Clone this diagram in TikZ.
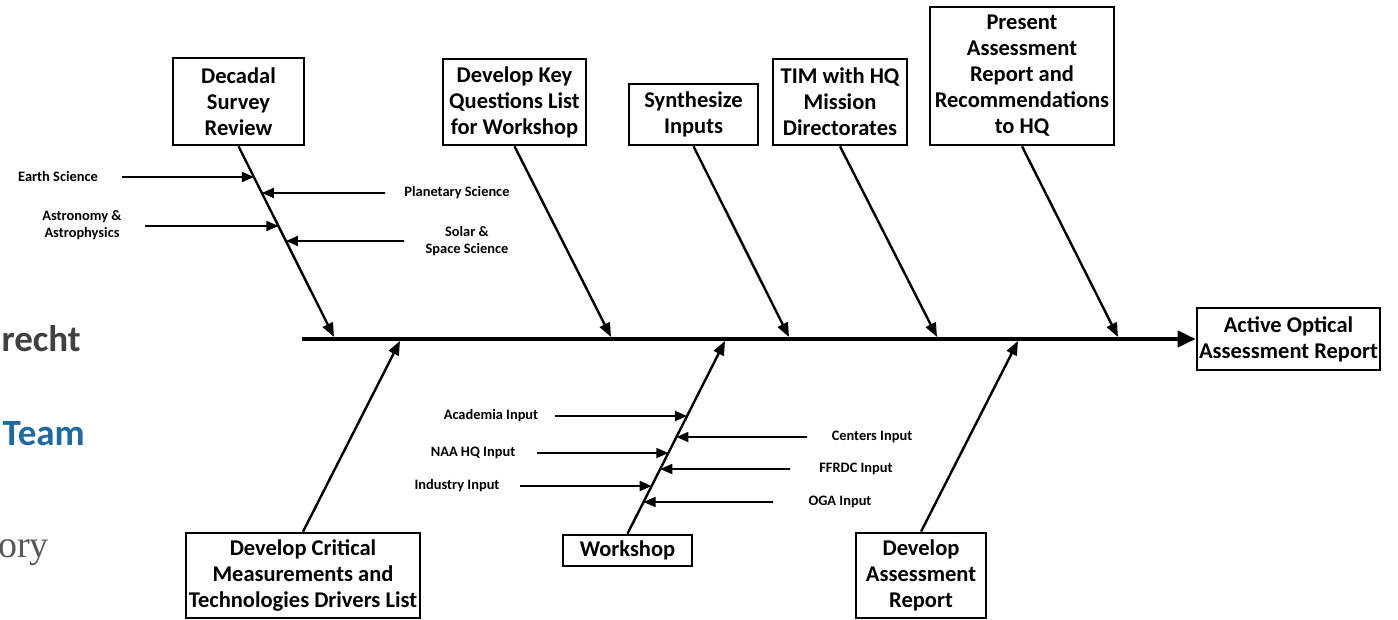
\documentclass[tikz,border=0pt]{standalone}
\usepackage{fontspec}
\setmainfont{Carlito}
\newfontfamily\seriffont{Liberation Serif}
\usetikzlibrary{arrows.meta}
\definecolor{dgray}{RGB}{64,64,64}
\definecolor{tblue}{RGB}{31,106,160}
\definecolor{sgray}{RGB}{89,89,89}
\begin{document}
\begin{tikzpicture}[x=1pt,y=-1pt,
  box/.style={draw,line width=2.6pt,align=center,font=\fontsize{22.5}{26}\selectfont\bfseries,inner sep=0pt},
  lbl/.style={align=center,font=\fontsize{14.4}{17.5}\selectfont\bfseries},
  branch/.style={line width=2.4pt,-{Triangle[length=14pt,width=11pt]}},
  sub/.style={line width=1.8pt,-{Triangle[length=12pt,width=10pt]}},
  spine/.style={line width=4pt,-{Triangle[length=18pt,width=16pt]}}]
\fill[white] (0,0) rectangle (1398,620);
\useasboundingbox (0,0) rectangle (1398,620);
\begin{scope}
  \clip (0,0) rectangle (1398,620);
  \node[anchor=base east,inner sep=0pt,text=dgray,font=\fontsize{37}{42}\selectfont\bfseries] (bga) at (81,352) {recht};
  \node[anchor=base east,inner sep=0pt,text=tblue,font=\fontsize{37}{42}\selectfont\bfseries] (bgb) at (85,445) {Team};
  \node[anchor=base east,inner sep=0pt,text=sgray,font=\fontsize{38}{42}\selectfont\seriffont] (bgc) at (49,557) {ory};
\end{scope}

% boxes
\node[box,minimum width=131pt,minimum height=87pt] (dsr) at (238.5,101.5) {Decadal\\Survey\\Review};
\node[box,minimum width=143pt,minimum height=86pt] (dkq) at (514.5,102) {Develop Key\\Questions List\\for Workshop};
\node[box,minimum width=129pt,minimum height=61pt] (syn) at (693.5,114.5) {Synthesize\\Inputs};
\node[box,minimum width=134pt,minimum height=86pt] (tim) at (840,102) {TIM with HQ\\Mission\\Directorates};
\node[box,minimum width=184pt,minimum height=138pt] (pre) at (1022,76) {Present\\Assessment\\Report and\\Recommendations\\to HQ};
\node[box,minimum width=234pt,minimum height=85pt] (dcm) at (303,575.5) {Develop Critical\\Measurements and\\Technologies Drivers List};
\node[box,minimum width=129pt,minimum height=31pt] (wks) at (627.5,550.5) {Workshop};
\node[box,minimum width=130pt,minimum height=85pt] (dar) at (921,575.5) {Develop\\Assessment\\Report};
\node[box,minimum width=183pt,minimum height=62pt] (aoa) at (1288.5,339) {Active Optical\\Assessment Report};

% spine
\coordinate (sp) at (302,339);
\draw[spine] (sp) -- (aoa.west);

% branch end points on spine
\coordinate (t1) at (334,337);
\coordinate (t2) at (611,337);
\coordinate (t3) at (789,337);
\coordinate (t4) at (937,337);
\coordinate (t5) at (1118,337);
\coordinate (b1) at (400,341);
\coordinate (b2) at (725,341);
\coordinate (b3) at (1018,341);

\draw[branch] (dsr.south) -- (t1);
\draw[branch] (dkq.south) -- (t2);
\draw[branch] (syn.south) -- (t3);
\draw[branch] (tim.south) -- (t4);
\draw[branch] (pre.south) -- (t5);
\draw[branch] (dcm.north) -- (b1);
\draw[branch] (wks.north) -- (b2);
\draw[branch] (dar.north) -- (b3);

% decadal survey inputs
\node[lbl] (les) at (58,177) {Earth Science};
\node[lbl] (lps) at (457,193) {Planetary Science};
\node[lbl] (laa) at (82,225) {Astronomy \&\\Astrophysics};
\node[lbl] (lss) at (467,241) {Solar \&\\Space Science};
\coordinate (ces) at (122,177);
\coordinate (cps) at (385,193);
\coordinate (caa) at (145,226);
\coordinate (css) at (404,241);
\draw[sub] (ces) -- (intersection of dsr.south--t1 and 0,177--1,177);
\draw[sub] (cps) -- (intersection of dsr.south--t1 and 0,193--1,193);
\draw[sub] (caa) -- (intersection of dsr.south--t1 and 0,226--1,226);
\draw[sub] (css) -- (intersection of dsr.south--t1 and 0,241--1,241);

% workshop inputs
\node[lbl] (lac) at (491,416) {Academia Input};
\node[lbl] (lce) at (872,437) {Centers Input};
\node[lbl] (lna) at (473,453) {NAA HQ Input};
\node[lbl] (lff) at (856,469) {FFRDC Input};
\node[lbl] (lin) at (457,486) {Industry Input};
\node[lbl] (log) at (840,502) {OGA Input};
\coordinate (cac) at (555,416);
\coordinate (cce) at (807,437);
\coordinate (cna) at (537,453);
\coordinate (cff) at (790,469);
\coordinate (cin) at (520,486);
\coordinate (cog) at (773,502);
\draw[sub] (cac) -- (intersection of wks.north--b2 and 0,416--1,416);
\draw[sub] (cce) -- (intersection of wks.north--b2 and 0,437--1,437);
\draw[sub] (cna) -- (intersection of wks.north--b2 and 0,453--1,453);
\draw[sub] (cff) -- (intersection of wks.north--b2 and 0,469--1,469);
\draw[sub] (cin) -- (intersection of wks.north--b2 and 0,486--1,486);
\draw[sub] (cog) -- (intersection of wks.north--b2 and 0,502--1,502);
\end{tikzpicture}
\end{document}
